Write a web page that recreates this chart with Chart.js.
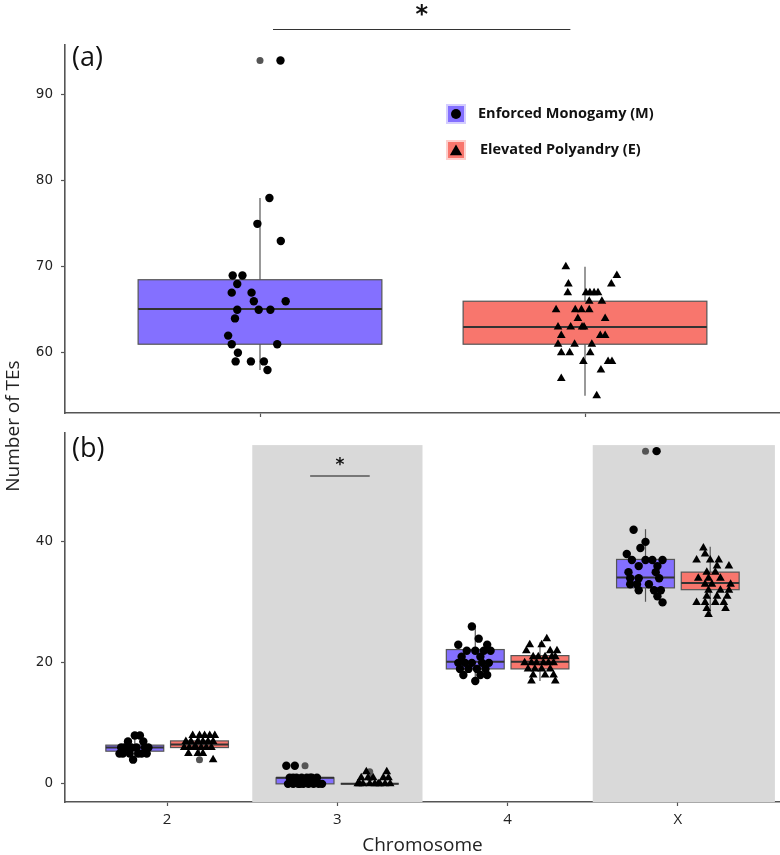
<!DOCTYPE html>
<html>
<head>
<meta charset="utf-8">
<script src="https://cdn.jsdelivr.net/npm/chart.js@4.4.1/dist/chart.umd.min.js"></script>
<style>
    html, body { margin: 0; padding: 0; background: #fff; }
    #wrap { position: relative; width: 780px; height: 855px; overflow: hidden; }
    #topChart { position: absolute; left: 0; top: 0; }
    #bottomChart { position: absolute; left: 0; top: 415px; }
    #ylab {
        position: absolute; left: -63px; top: 413px; width: 150px; line-height: 24px;
        text-align: center; transform: rotate(-90deg); white-space: nowrap;
        font: 19px 'Open Sans', sans-serif; color: #222;
    }
</style>
</head>
<body>
<div id="wrap">
    <canvas id="topChart" width="785" height="430"></canvas>
    <canvas id="bottomChart" width="785" height="440"></canvas>
    <div id="ylab">Number of TEs</div>
</div>
<script>
// groups
const groupNames = ['Enforced Monogamy (M)', 'Elevated Polyandry (E)'];
const groupColors = ['#8470ff', '#f8766d'];

// panel (a), all chromosomes: box stats [lower whisker, q1, median, q3, upper whisker]
const boxA_M = [58, 61, 65.1, 68.5, 78];
const boxA_E = [55, 61, 63, 66, 70];
const outliersA_M = [94];
const outliersA_E = [];
// jittered points: [x offset, value]
const pointsA_M = [
    [0.063, 94], [0.029, 78], [-0.008, 75], [0.064, 73],
    [-0.084, 69], [-0.054, 69], [-0.070, 68],
    [-0.087, 67], [-0.026, 67], [-0.019, 66], [0.079, 66],
    [-0.070, 65], [-0.004, 65], [0.032, 65], [-0.077, 64],
    [-0.098, 62], [-0.087, 61], [0.053, 61], [-0.068, 60],
    [-0.075, 59], [-0.028, 59], [0.012, 59], [0.023, 58]
];
const pointsA_E = [
    [-0.059, 70], [0.098, 69], [-0.051, 68], [0.081, 68],
    [-0.053, 67], [0.003, 67], [0.015, 67], [0.028, 67], [0.040, 67],
    [0.013, 66], [0.052, 66],
    [-0.089, 65], [-0.030, 65], [-0.011, 65], [0.013, 65],
    [-0.022, 64], [0.062, 64],
    [-0.083, 63], [-0.044, 63], [-0.009, 63], [-0.003, 63],
    [-0.073, 62], [0.047, 62], [0.062, 62],
    [-0.083, 61], [-0.032, 61], [0.021, 61],
    [-0.073, 60], [-0.047, 60], [0.016, 60],
    [-0.005, 59], [0.071, 59], [0.083, 59],
    [0.049, 58], [-0.073, 57], [0.036, 55]
];
const ticksA = [60, 70, 80, 90];

// panel (b), per chromosome
const chromosomes = ['2', '3', '4', 'X'];
const shadedChromosomes = ['3', 'X'];
const boxB_M = [[4, 5.4, 6, 6.4, 8], [0, 0, 1, 1, 1], [17, 19, 20.2, 22.2, 26], [30.1, 32.4, 34.1, 37.1, 42.1]];
const boxB_E = [[5, 6, 6.5, 7.1, 8], [0, 0, 0, 0, 0], [17, 19, 20.2, 21.2, 23.4], [28.2, 32.1, 33.2, 35, 39.2]];
const outliersB_M = [[], [3], [], [55]];
const outliersB_E = [[4], [1, 2], [], []];
const pointsB_M = [
    [[0.0, 8], [0.03, 8], [-0.04, 7], [0.05, 7], [-0.08, 6], [-0.06, 6], [-0.02, 6], [0.01, 6], [0.06, 6],
     [0.08, 6], [-0.09, 5], [-0.07, 5], [-0.03, 5], [0.02, 5], [0.04, 5], [0.07, 5], [-0.05, 6], [-0.01, 4]],
    [[-0.11, 3], [-0.06, 3], [-0.09, 1], [-0.05, 1], [-0.02, 1], [0.01, 1], [0.04, 1], [0.07, 1], [-0.07, 1],
     [0.03, 1], [-0.1, 0], [-0.07, 0], [-0.04, 0], [-0.01, 0], [0.02, 0], [0.05, 0], [0.08, 0], [0.1, 0], [-0.03, 0]],
    [[-0.02, 26], [0.02, 24], [-0.1, 23], [0.07, 23], [-0.05, 22], [0.0, 22], [0.05, 22], [0.09, 22],
     [-0.08, 21], [0.03, 21], [-0.1, 20], [-0.06, 20], [-0.02, 20], [0.04, 20], [0.08, 20], [-0.09, 19],
     [-0.04, 19], [0.01, 19], [0.06, 19], [-0.07, 18], [0.03, 18], [0.07, 18], [0.0, 17]],
    [[0.065, 55], [-0.07, 42], [0.0, 40], [-0.03, 39], [-0.11, 38], [-0.08, 37], [0.0, 37], [0.04, 37],
     [0.1, 37], [-0.04, 36], [0.07, 36], [-0.1, 35], [0.06, 35], [-0.09, 34], [-0.04, 34], [0.08, 34],
     [-0.09, 33], [-0.05, 33], [0.02, 33], [-0.04, 32], [0.05, 32], [0.09, 32], [0.07, 31], [0.1, 30]]
];
const pointsB_E = [
    [[-0.04, 8], [0.0, 8], [0.03, 8], [0.06, 8], [0.09, 8], [-0.08, 7], [-0.05, 7], [-0.01, 7], [0.02, 7],
     [0.05, 7], [0.08, 7], [-0.09, 6], [-0.06, 6], [-0.03, 6], [0.01, 6], [0.04, 6], [0.07, 6], [-0.02, 6],
     [-0.065, 5], [-0.01, 5], [0.02, 5], [0.08, 4]],
    [[-0.02, 2], [0.1, 2], [-0.05, 1], [-0.01, 1], [0.02, 1], [0.08, 1], [0.11, 1], [-0.07, 0], [-0.04, 0],
     [0.0, 0], [0.03, 0], [0.06, 0], [0.09, 0], [0.12, 0], [-0.06, 0], [0.05, 0]],
    [[0.04, 24], [-0.06, 23], [0.01, 23], [-0.08, 22], [0.06, 22], [0.1, 22], [-0.04, 21], [-0.01, 21],
     [0.03, 21], [0.07, 21], [0.09, 21], [-0.09, 20], [-0.05, 20], [-0.02, 20], [0.02, 20], [0.05, 20],
     [0.08, 20], [-0.07, 19], [-0.03, 19], [0.01, 19], [0.06, 19], [-0.04, 18], [0.03, 18], [0.08, 18],
     [-0.05, 17], [0.09, 17]],
    [[-0.04, 39], [-0.03, 38], [-0.08, 37], [0.0, 37], [0.05, 37], [0.04, 36], [0.11, 36], [-0.02, 35],
     [0.03, 35], [-0.07, 34], [-0.01, 34], [0.06, 34], [-0.03, 33], [0.01, 33], [0.12, 33], [-0.01, 32],
     [0.06, 32], [0.11, 32], [-0.02, 31], [0.04, 31], [0.1, 31], [-0.08, 30], [-0.03, 30], [0.03, 30],
     [0.08, 30], [-0.02, 29], [0.09, 29], [-0.01, 28]]
];
const ticksB = [0, 20, 40];

const DODGE = 0.19;
const AXIS_COLOR = '#555';
const TEXT_COLOR = '#222';

function triangle(ctx, cx, cy, r) {
    ctx.beginPath();
    ctx.moveTo(cx, cy - r);
    ctx.lineTo(cx + r * 0.95, cy + r * 0.65);
    ctx.lineTo(cx - r * 0.95, cy + r * 0.65);
    ctx.closePath();
    ctx.fill();
}

// draws shaded bands, whiskers, boxes and medians under the points, then labels on top
function boxPlotPlugin(spec) {
    return {
        id: 'boxplot',
        beforeDatasetsDraw(chart) {
            const {ctx, chartArea, scales: {x, y}} = chart;
            ctx.save();
            ctx.beginPath();
            ctx.rect(chartArea.left, chartArea.top, chartArea.width, chartArea.height);
            ctx.clip();
            (spec.bands || []).forEach(b => {
                const x0 = x.getPixelForValue(b.from), x1 = x.getPixelForValue(b.to);
                const y0 = y.getPixelForValue(b.top), y1 = y.getPixelForValue(y.min);
                ctx.fillStyle = '#d9d9d9';
                ctx.fillRect(x0, y0, x1 - x0, y1 - y0);
            });
            spec.boxes.forEach(bx => {
                const cx = x.getPixelForValue(bx.pos);
                const half = x.getPixelForValue(bx.pos + spec.width / 2) - cx;
                const [lo, q1, med, q3, hi] = bx.stats.map(v => y.getPixelForValue(v));
                ctx.strokeStyle = AXIS_COLOR;
                ctx.lineWidth = 1.2;
                ctx.beginPath();
                ctx.moveTo(cx, lo);
                ctx.lineTo(cx, hi);
                ctx.stroke();
                ctx.fillStyle = bx.color;
                ctx.fillRect(cx - half, q3, half * 2, q1 - q3);
                ctx.strokeRect(cx - half, q3, half * 2, q1 - q3);
                ctx.strokeStyle = '#333';
                ctx.lineWidth = 2;
                ctx.beginPath();
                ctx.moveTo(cx - half, med);
                ctx.lineTo(cx + half, med);
                ctx.stroke();
            });
            ctx.restore();
        },
        afterDraw(chart) {
            const {ctx, chartArea, scales: {x, y}} = chart;
            ctx.save();
            // panel tag
            ctx.fillStyle = '#111';
            ctx.font = "27px 'Open Sans', sans-serif";
            ctx.textAlign = 'left';
            ctx.textBaseline = 'alphabetic';
            ctx.fillText(spec.tag, chartArea.left + 7, chartArea.top + spec.tagOffset);
            // significance bar
            if (spec.sig) {
                const s = spec.sig;
                const ys = y.getPixelForValue(s.y);
                ctx.strokeStyle = s.color;
                ctx.lineWidth = s.lineWidth;
                ctx.beginPath();
                ctx.moveTo(x.getPixelForValue(s.from), ys);
                ctx.lineTo(x.getPixelForValue(s.to), ys);
                ctx.stroke();
                ctx.fillStyle = '#111';
                ctx.font = `bold ${s.size}px 'DejaVu Sans', sans-serif`;
                ctx.textAlign = 'center';
                ctx.fillText('*', x.getPixelForValue((s.from + s.to) / 2), ys - s.gap);
            }
            // legend
            if (spec.legend) {
                const lx = chartArea.left + 382, ly = chartArea.top + 60;
                groupNames.forEach((name, i) => {
                    const top = ly + i * 36;
                    ctx.fillStyle = groupColors[i];
                    ctx.globalAlpha = 0.35;
                    ctx.fillRect(lx - 1, top - 1, 20, 20);
                    ctx.globalAlpha = 1;
                    ctx.fillRect(lx + 1, top + 1, 16, 16);
                    ctx.fillStyle = '#000';
                    if (i === 0) {
                        ctx.beginPath();
                        ctx.arc(lx + 9, top + 9, 5, 0, Math.PI * 2);
                        ctx.fill();
                    } else {
                        triangle(ctx, lx + 9, top + 10, 6.5);
                    }
                    ctx.font = "bold 14.5px 'Open Sans', sans-serif";
                    ctx.textAlign = 'left';
                    ctx.textBaseline = 'middle';
                    ctx.fillStyle = '#111';
                    ctx.fillText(name, lx + 31 + i * 2, top + 9);
                });
            }
            ctx.restore();
        }
    };
}

function jitterData(points, pos) {
    return points.map(([dx, v]) => ({x: pos + dx, y: v}));
}

function pointSet(data, style, radius, color) {
    return {
        data: data,
        pointStyle: style,
        radius: radius,
        backgroundColor: color,
        borderColor: color,
        borderWidth: 0,
        showLine: false
    };
}

function axes(xmin, xmax, xticks, yticks, ymin, ymax, xHeight, xLabels, xTitle) {
    return {
        x: {
            type: 'linear', min: xmin, max: xmax,
            afterBuildTicks: s => { s.ticks = xticks.map(v => ({value: v})); },
            afterFit: s => { s.height = xHeight; },
            grid: {drawOnChartArea: false, tickLength: 4, color: AXIS_COLOR, tickWidth: 1.2},
            border: {color: AXIS_COLOR, width: 1.6},
            ticks: {
                padding: 5, color: TEXT_COLOR,
                font: {family: "'Open Sans', sans-serif", size: 15},
                callback: v => xLabels ? xLabels[Math.round(v) - 1] : ''
            },
            title: {
                display: !!xTitle, text: xTitle, color: TEXT_COLOR,
                font: {family: "'Open Sans', sans-serif", size: 19, lineHeight: 1},
                padding: {top: 0, bottom: 0}
            }
        },
        y: {
            min: ymin, max: ymax,
            afterBuildTicks: s => { s.ticks = yticks.map(v => ({value: v})); },
            afterFit: s => { s.width = 65; },
            grid: {drawOnChartArea: false, tickLength: 4, color: AXIS_COLOR, tickWidth: 1.2},
            border: {color: AXIS_COLOR, width: 1.6},
            ticks: {
                padding: 8, color: TEXT_COLOR,
                font: {family: "'DejaVu Sans', sans-serif", size: 13.5}
            }
        }
    };
}

const baseOptions = {
    responsive: false,
    animation: false,
    events: [],
    plugins: {legend: {display: false}, tooltip: {enabled: false}}
};

// panel (a)
new Chart(document.getElementById('topChart'), {
    type: 'scatter',
    data: {
        datasets: [
            pointSet(jitterData(pointsA_M, 1), 'circle', 4.2, '#000'),
            pointSet(jitterData(pointsA_E, 2), 'triangle', 5, '#000'),
            pointSet(outliersA_M.map(v => ({x: 1, y: v})), 'circle', 3.5, '#555'),
            pointSet(outliersA_E.map(v => ({x: 2, y: v})), 'circle', 3.5, '#555')
        ]
    },
    options: {
        ...baseOptions,
        layout: {padding: {top: 45, left: 0, right: 0, bottom: 0}},
        scales: axes(0.4, 2.6, [1, 2], ticksA, 53, 95.8, 17, null, '')
    },
    plugins: [boxPlotPlugin({
        width: 0.75,
        boxes: [
            {pos: 1, stats: boxA_M, color: groupColors[0]},
            {pos: 2, stats: boxA_E, color: groupColors[1]}
        ],
        tag: '(a)', tagOffset: 21,
        sig: {from: 1.04, to: 1.955, y: 97.6, color: '#333', lineWidth: 1.2, size: 24, gap: 8},
        legend: true
    })]
});

// panel (b)
const bDatasets = [
    pointSet(chromosomes.flatMap((c, i) => jitterData(pointsB_M[i], i + 1 - DODGE)), 'circle', 4.2, '#000'),
    pointSet(chromosomes.flatMap((c, i) => jitterData(pointsB_E[i], i + 1 + DODGE)), 'triangle', 5, '#000'),
    pointSet(chromosomes.flatMap((c, i) => outliersB_M[i].map(v => ({x: i + 1 - DODGE, y: v}))), 'circle', 3.5, '#555'),
    pointSet(chromosomes.flatMap((c, i) => outliersB_E[i].map(v => ({x: i + 1 + DODGE, y: v}))), 'circle', 3.5, '#555')
];

new Chart(document.getElementById('bottomChart'), {
    type: 'scatter',
    data: {datasets: bDatasets},
    options: {
        ...baseOptions,
        layout: {padding: {top: 18, left: 0, right: 0, bottom: 0}},
        scales: axes(0.4, 4.6, [1, 2, 3, 4], ticksB, -3, 58, 53, chromosomes, 'Chromosome')
    },
    plugins: [boxPlotPlugin({
        width: 0.34,
        boxes: chromosomes.flatMap((c, i) => [
            {pos: i + 1 - DODGE, stats: boxB_M[i], color: groupColors[0]},
            {pos: i + 1 + DODGE, stats: boxB_E[i], color: groupColors[1]}
        ]),
        // the last band runs on almost to the panel edge
        bands: shadedChromosomes.map(c => {
            const p = chromosomes.indexOf(c) + 1;
            return {from: p - 0.5, to: p === chromosomes.length ? p + 0.57 : p + 0.5, top: 56};
        }),
        tag: '(b)', tagOffset: 24,
        sig: {from: 1.84, to: 2.19, y: 50.9, color: '#777', lineWidth: 2, size: 17, gap: 6}
    })]
});
</script>
</body>
</html>
